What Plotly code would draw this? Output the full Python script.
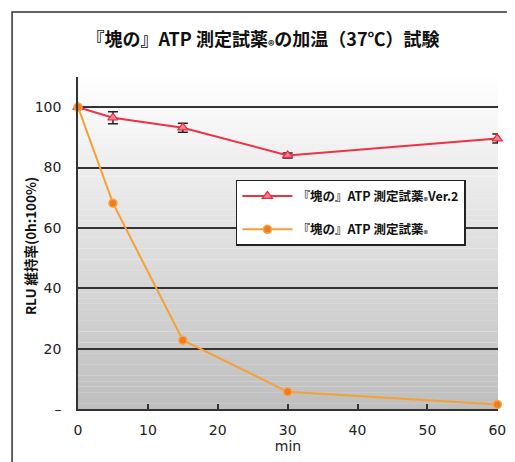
import plotly.graph_objects as go

minutes = [0, 5, 15, 30, 60]
ver2_values = [100, 96.5, 93.2, 84.0, 89.6]
ver2_errors = [0, 2.0, 1.5, 0.8, 1.5]
orig_values = [100, 68.2, 22.8, 5.7, 1.5]

x_ticks = [0, 10, 20, 30, 40, 50, 60]
y_ticks = [0, 20, 40, 60, 80, 100]
y_ticktext = ["–", "20", "40", "60", "80", "100"]

title_text = "『塊の』ATP 測定試薬<sub>®</sub>の加温（37℃）試験"
ver2_name = "『塊の』ATP 測定試薬<sub>®</sub>Ver.2"
orig_name = "『塊の』ATP 測定試薬<sub>®</sub>"
x_title = "min"
y_title = "RLU 維持率(0h:100%)"

YMAX = 110
XMAX = 60.1

CJK = "Noto Sans CJK JP, DejaVu Sans, sans-serif"
NUM = "DejaVu Sans, Verdana, sans-serif"

fig = go.Figure()

fig.add_trace(go.Scatter(
    x=minutes, y=ver2_values, name=ver2_name, mode="lines+markers",
    legendgroup="v2",
    line=dict(color="#ee3147", width=2),
    marker=dict(symbol="triangle-up", size=9, color="#f2818f",
                line=dict(color="#e8283e", width=1.2)),
    error_y=dict(type="data", array=ver2_errors, visible=True,
                 color="#222222", thickness=1.5, width=5),
    cliponaxis=False,
))
fig.add_trace(go.Scatter(
    x=minutes, y=orig_values, name=orig_name, mode="lines+markers",
    legendgroup="v1",
    line=dict(color="#f6a035", width=2),
    marker=dict(symbol="circle", size=8, color="#f27a22",
                line=dict(color="#f8a640", width=1.5)),
    cliponaxis=False,
))

# gradient background (bands, below gridlines)
shapes = []
n = 60
top_c = (255, 255, 255)
bot_c = (190, 190, 190)
for i in range(n):
    y0 = YMAX * i / n
    y1 = YMAX * (i + 1) / n
    t = (i + 0.5) / n
    c = tuple(int(round(bot_c[k] + (top_c[k] - bot_c[k]) * t)) for k in range(3))
    shapes.append(dict(type="rect", xref="x", yref="y", x0=0, x1=XMAX,
                       y0=y0, y1=y1 + 0.05, line=dict(width=0),
                       fillcolor="rgb(%d,%d,%d)" % c, layer="below"))
# outer frame
shapes.append(dict(type="rect", xref="paper", yref="paper",
                   x0=-0.157, x1=1.3, y0=-0.4, y1=1.196,
                   line=dict(color="#333333", width=1.5), layer="above"))
fig.update_layout(shapes=shapes)

fig.add_annotation(text=y_title, xref="paper", yref="paper",
                   x=-0.114, y=0.491, xanchor="center", yanchor="middle",
                   textangle=-90, showarrow=False,
                   font=dict(family=CJK, size=13.5, color="#111111", weight="bold"))

fig.update_layout(
    width=515, height=462,
    margin=dict(l=70, r=25, t=69, b=61),
    paper_bgcolor="white",
    plot_bgcolor="rgba(0,0,0,0)",
    title=dict(text=title_text, x=(263 - 8 - 70) / 420, xref="paper", xanchor="center",
               y=1 - 32 / 462, yanchor="middle",
               font=dict(family=CJK, size=18, color="#111111", weight="bold")),
    xaxis=dict(range=[0, XMAX], tickvals=x_ticks, showgrid=False,
               showline=True, linecolor="#333333", linewidth=1.5,
               ticks="inside", ticklen=5, tickcolor="#333333", tickwidth=1.5,
               ticklabelstandoff=7,
               tickfont=dict(family=NUM, size=14, color="#222222"),
               title=dict(text=x_title, standoff=5,
                          font=dict(family=NUM, size=14, color="#222222")),
               zeroline=False, fixedrange=True, automargin=False),
    yaxis=dict(range=[0, YMAX], tickvals=y_ticks, ticktext=y_ticktext,
               showgrid=True, gridcolor="#333333", gridwidth=1.5,
               showline=True, linecolor="#333333", linewidth=1.5,
               ticks="", ticklabelstandoff=12,
               tickfont=dict(family=NUM, size=14, color="#222222"),
               zeroline=False, fixedrange=True, automargin=False),
    legend=dict(x=0.376, y=0.69, xanchor="left", yanchor="top",
                bgcolor="white", bordercolor="#222222", borderwidth=1.5,
                font=dict(family=CJK, size=12.5, color="#111111", weight="bold"),
                itemwidth=50, tracegroupgap=14),
    showlegend=True,
)

fig.write_html("out.html")
